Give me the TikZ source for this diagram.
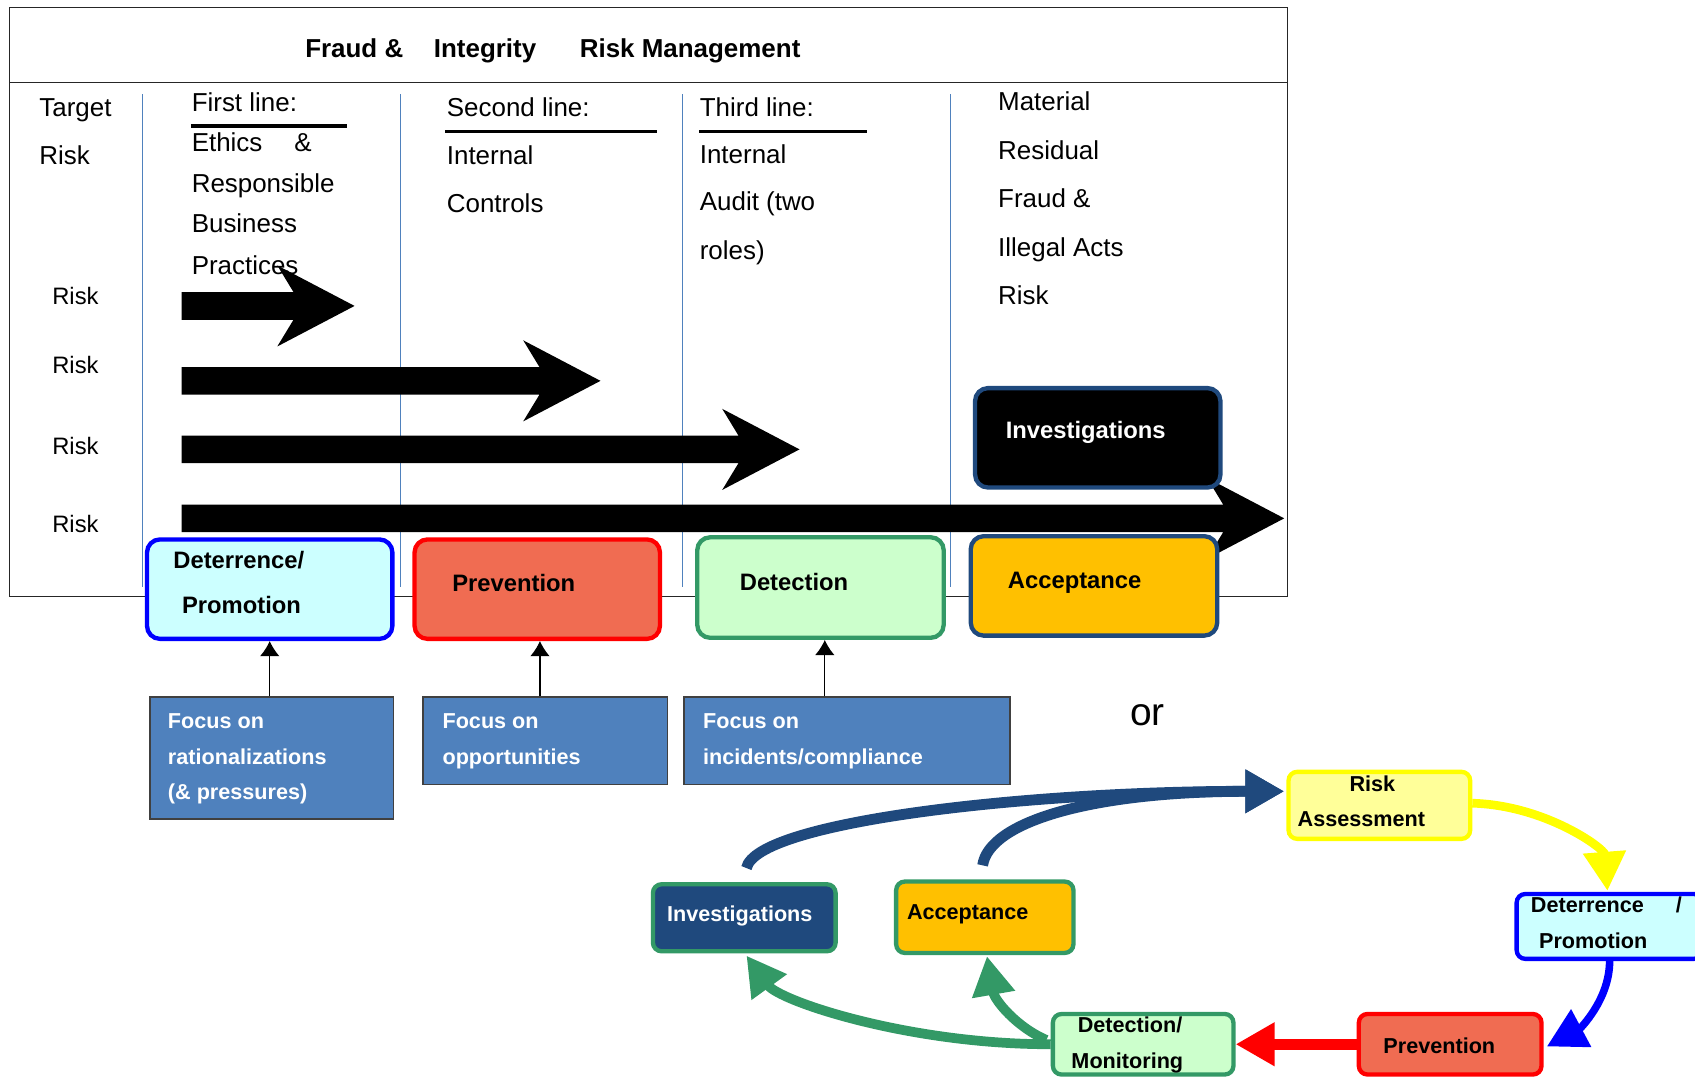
\documentclass[tikz,border=0pt]{standalone}
\usepackage{fontspec}
\setmainfont{Liberation Sans}
\usetikzlibrary{arrows.meta,calc}
\definecolor{cyanl}{HTML}{CCFFFF}
\definecolor{salmon}{HTML}{F06C52}
\definecolor{greenl}{HTML}{CCFFCC}
\definecolor{greenb}{HTML}{339966}
\definecolor{gold}{HTML}{FFC000}
\definecolor{dblue}{HTML}{1F497D}
\definecolor{focusblue}{HTML}{4F81BD}
\definecolor{lineblue}{HTML}{4F81BD}
\definecolor{yellowb}{HTML}{FFFF00}
\definecolor{yellowl}{HTML}{FFFF99}
\newcommand\blkarrow[2]{%
  \fill (168,#1-12.8) -- (#2-56.5,#1-12.8) -- (#2-71.5,#1-37.5) -- (#2,#1) --
        (#2-71.5,#1+37.5) -- (#2-56.5,#1+12.8) -- (168,#1+12.8) -- cycle;}
\begin{document}
\begin{tikzpicture}[x=0.5pt,y=-0.5pt,
  tx/.style={anchor=base west,inner sep=0pt,font=\fontsize{12}{14}\selectfont},
  rl/.style={anchor=base west,inner sep=0pt,font=\fontsize{11}{13}\selectfont},
  tt/.style={anchor=base west,inner sep=0pt,font=\bfseries\fontsize{12}{14}\selectfont},
  bt/.style={anchor=base west,inner sep=0pt,font=\bfseries\fontsize{11}{13}\selectfont},
  st/.style={anchor=base west,inner sep=0pt,font=\bfseries\fontsize{10}{12}\selectfont},
  ft/.style={st,text=white},
  bigbox/.style={draw,line width=2pt,rounded corners=6pt,minimum width=113.5pt,minimum height=46pt,inner sep=0pt},
  smbox/.style={draw,line width=2pt,rounded corners=4pt,inner sep=0pt},
  focusbox/.style={draw=black!75,fill=focusblue,line width=0.8pt,inner sep=0pt},
  vline/.style={draw=lineblue,line width=0.5pt},
  rulebar/.style={line width=1.5pt},
  upar/.style={line width=0.5pt,-{Latex[length=7pt,width=9pt]}},
  cyc/.style={-{Triangle[length=18pt,width=19pt]}},
]
\useasboundingbox (0,0) rectangle (1568,998);
\clip (0,0) rectangle (1568,998);
% frame
\draw[line width=0.6pt,black!85] (9,7) rectangle (1191,552);
\draw[line width=0.6pt,black!85] (9,76.5) -- (1191,76.5);
\foreach \x in {132,370.5,631,879.6} \draw[vline] (\x,87) -- (\x,543);
% title
\node[tt] (t1) at (282,53) {Fraud \&};
\node[tt] (t2) at (401,53) {Integrity};
\node[tt] (t3) at (536,53) {Risk Management};
% columns
\node[tx] (c0a) at (36,108) {Target};
\node[tx] (c0b) at (36,152) {Risk};
\node[tx] (c1a) at (177,102.7) {First line:};
\draw[rulebar] (176.5,116.6) -- (321,116.6);
\node[tx] (c1b) at (177,140.3) {Ethics};
\node[tx] (c1c) at (272,140.3) {\&};
\node[tx] (c1d) at (177,178.2) {Responsible};
\node[tx] (c1e) at (177,214.9) {Business};
\node[tx] (c1f) at (177,253.5) {Practices};
\node[tx] (c2a) at (413,108) {Second line:};
\draw[rulebar] (412,121.8) -- (608,121.8);
\node[tx] (c2b) at (413,152.6) {Internal};
\node[tx] (c2c) at (413,196.4) {Controls};
\node[tx] (c3a) at (647,108) {Third line:};
\draw[rulebar] (647,121.8) -- (802,121.8);
\node[tx] (c3b) at (647,151) {Internal};
\node[tx] (c3c) at (647,194.9) {Audit (two};
\node[tx] (c3d) at (647,240) {roles)};
\node[tx] (c4a) at (923,102.4) {Material};
\node[tx] (c4b) at (923,148) {Residual};
\node[tx] (c4c) at (923,191.8) {Fraud \&};
\node[tx] (c4d) at (923,237.4) {Illegal Acts};
\node[tx] (c4e) at (923,281.5) {Risk};
\node[rl] (r1) at (48,282) {Risk};
\node[rl] (r2) at (48,345.4) {Risk};
\node[rl] (r3) at (48,420) {Risk};
\node[rl] (r4) at (48,492.5) {Risk};
% block arrows
\blkarrow{283}{328}
\blkarrow{352.3}{555.5}
\blkarrow{415.7}{739.6}
\blkarrow{479.5}{1188}
% top boxes
\node[bigbox,draw=blue,fill=cyanl] (deter) at (249.5,545) {};
\node[bigbox,draw=red,fill=salmon] (prev) at (497,545) {};
\node[bigbox,draw=greenb,fill=greenl,minimum width=114pt,minimum height=46.5pt] (det) at (759,543.5) {};
\node[bigbox,draw=dblue,fill=gold,minimum width=114pt] (acc) at (1012,542) {};
\node[bigbox,draw=dblue,fill=black] (inv) at (1015.5,405) {};
\node[bt] (deterT1) at (160,525.8) {Deterrence/};
\node[bt] (deterT2) at (168,567.4) {Promotion};
\node[bt] (prevT) at (418,547.3) {Prevention};
\node[bt] (detT) at (684,545.8) {Detection};
\node[bt] (accT) at (932,544.3) {Acceptance};
\node[bt,text=white] (invT) at (930,406) {Investigations};
% focus boxes
\node[focusbox,minimum width=112.5pt,minimum height=56.3pt] (f1) at (251.5,701.3) {};
\node[focusbox,minimum width=113.3pt,minimum height=40.3pt] (f2) at (504.3,685.3) {};
\node[focusbox,minimum width=150.85pt,minimum height=40.3pt] (f3) at (783.35,685.3) {};
\node[ft] (f1a) at (155,673.8) {Focus on};
\node[ft] (f1b) at (155,706.8) {rationalizations};
\node[ft] (f1c) at (155,740) {(\& pressures)};
\node[ft] (f2a) at (409,673.8) {Focus on};
\node[ft] (f2b) at (409,706.8) {opportunities};
\node[ft] (f3a) at (650,673.8) {Focus on};
\node[ft] (f3b) at (650,706.8) {incidents/compliance};
\draw[upar] (deter.south |- f1.north) -- (deter.south);
\draw[upar] ($(prev.south |- f2.north)+(2.5,0)$) -- ($(prev.south)+(2.5,0)$);
\draw[upar] ($(det.south |- f3.north)+(4,0)$) -- ($(det.south)+(4,0)$);
% or
\node[anchor=base west,inner sep=0pt,font=\fontsize{18}{20}\selectfont] (or) at (1045,671) {or};
% cycle boxes
\node[smbox,draw=yellowb,fill=yellowl,minimum width=84pt,minimum height=31pt] (ra) at (1276,745) {};
\node[smbox,draw=blue,fill=cyanl,minimum width=86pt,minimum height=30pt] (deter2) at (1489,857) {};
\node[smbox,draw=red,fill=salmon,minimum width=84.5pt,minimum height=28pt] (prev2) at (1341.5,966) {};
\node[smbox,draw=greenb,fill=greenl,minimum width=83.5pt,minimum height=28pt] (det2) at (1057.5,966) {};
\node[smbox,draw=greenb,fill=gold,minimum width=82pt,minimum height=33pt] (acc2) at (911,848.5) {};
\node[smbox,draw=greenb,fill=dblue,minimum width=84.5pt,minimum height=31pt] (inv2) at (688.5,849) {};
\node[st,anchor=base] (raT1) at (1269.5,732.3) {Risk};
\node[st] (raT2) at (1200,764.7) {Assessment};
\node[st] (d2T1) at (1415.8,844.3) {Deterrence};
\node[st] (d2T2) at (1550,844.3) {/};
\node[st] (d2T3) at (1423.4,877.3) {Promotion};
\node[st] (p2T) at (1279.4,974.4) {Prevention};
\node[st] (m2T1) at (996.6,955.3) {Detection/};
\node[st] (m2T2) at (990.8,988.3) {Monitoring};
\node[st] (a2T) at (838.7,851) {Acceptance};
\node[st,text=white] (i2T) at (616.7,852.6) {Investigations};
% cycle arrows
\draw[cyc,dblue,line width=5pt] ($(inv2.north)+(2,-13)$) .. controls (700,760) and (950,732) .. ($(ra.west)+(-2,-13)$);
\draw[cyc,dblue,line width=5pt] ($(acc2.north)+(-2,-13)$) .. controls (915,760) and (1010,732) .. ($(ra.west)+(-2,-13)$);
\draw[cyc,greenb,line width=4.5pt] (det2.west) .. controls (840,966) and (721,926) .. ($(inv2.south)+(2,2)$);
\draw[cyc,greenb,line width=4.5pt] ($(det2.west)+(-4,-4)$) .. controls (940,950) and (920,925) .. ($(acc2.south)+(2,1)$);
\draw[cyc,yellowb,line width=4pt] ($(ra.east)+(0,-2)$) .. controls (1430,745) and (1484,785) .. ($(deter2.north)+(-2,-1)$);
\draw[cyc,blue,line width=3.5pt] (deter2.south) .. controls (1489,925) and (1461,952) .. ($(prev2.east)+(3,2)$);
\draw[cyc,red,line width=5pt] (prev2.west) -- (det2.east);
\end{tikzpicture}
\end{document}
